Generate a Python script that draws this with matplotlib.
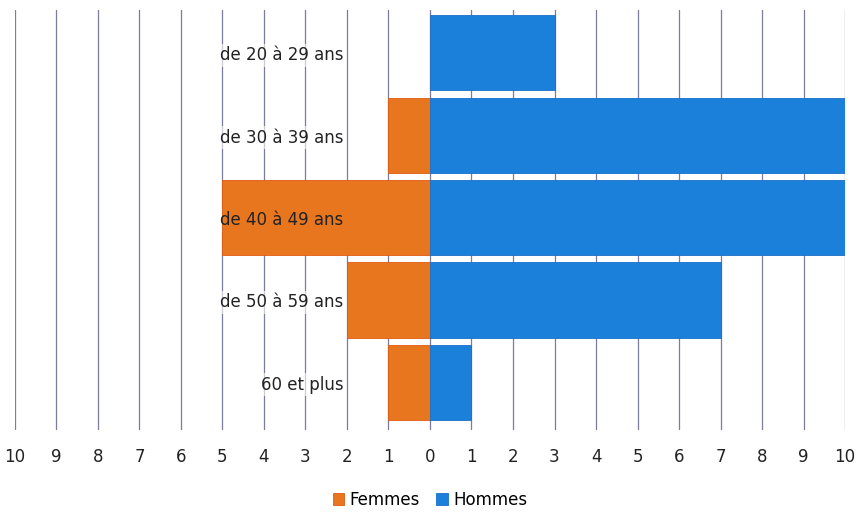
import matplotlib
matplotlib.use("Agg")
import matplotlib.pyplot as plt
import numpy as np

categories = ["de 20 à 29 ans", "de 30 à 39 ans", "de 40 à 49 ans", "de 50 à 59 ans", "60 et plus"]
femmes = [0, 1, 5, 2, 1]
hommes = [3, 10, 10, 7, 1]
tick_values = list(range(-10, 11))
tick_labels = [str(abs(v)) for v in tick_values]

c_f = "#E8761E"
c_h = "#1A80DA"

fig = plt.figure(figsize=(8.61, 5.14), dpi=100)
ax = fig.add_axes([15/861, 1 - 430/514, (845 - 15)/861, 420/514])

y = np.arange(len(categories))
h = 0.91
ax.barh(y, [-v for v in femmes], height=h, color=c_f, edgecolor="#E05A10", linewidth=0.6, label="Femmes", zorder=3)
ax.barh(y, hommes, height=h, color=c_h, edgecolor="#1A70C8", linewidth=0.6, label="Hommes", zorder=3)

ax.set_xlim(-10, 10)
ax.set_ylim(4.576, -0.516)
ax.set_xticks(tick_values)
ax.set_xticklabels(tick_labels, fontsize=12, color="#222222")
ax.set_yticks([])
ax.tick_params(axis="x", length=0, pad=13)
for s in ax.spines.values():
    s.set_visible(False)
ax.grid(axis="x", color="#7c7c9c", linewidth=0.9, zorder=1)
ax.set_axisbelow(True)

for yi, cat in zip(y, categories):
    # white label box behind the bars, faint shadow below it
    ax.text(-2.08, yi + 0.03, cat, ha="right", va="center", fontsize=12, color="none", zorder=2,
            bbox=dict(boxstyle="square,pad=0.15", facecolor="white", edgecolor="none", alpha=0.6))
    ax.text(-2.08, yi + 0.03, cat, ha="right", va="center", fontsize=12, color="#222222", zorder=5)

fig.legend(loc="center", bbox_to_anchor=(430/861, 1 - 500/514), ncol=2, frameon=False,
           fontsize=12, handlelength=0.7, handleheight=0.7, handletextpad=0.3, columnspacing=1.0)

fig.savefig("out.png", dpi=100)
